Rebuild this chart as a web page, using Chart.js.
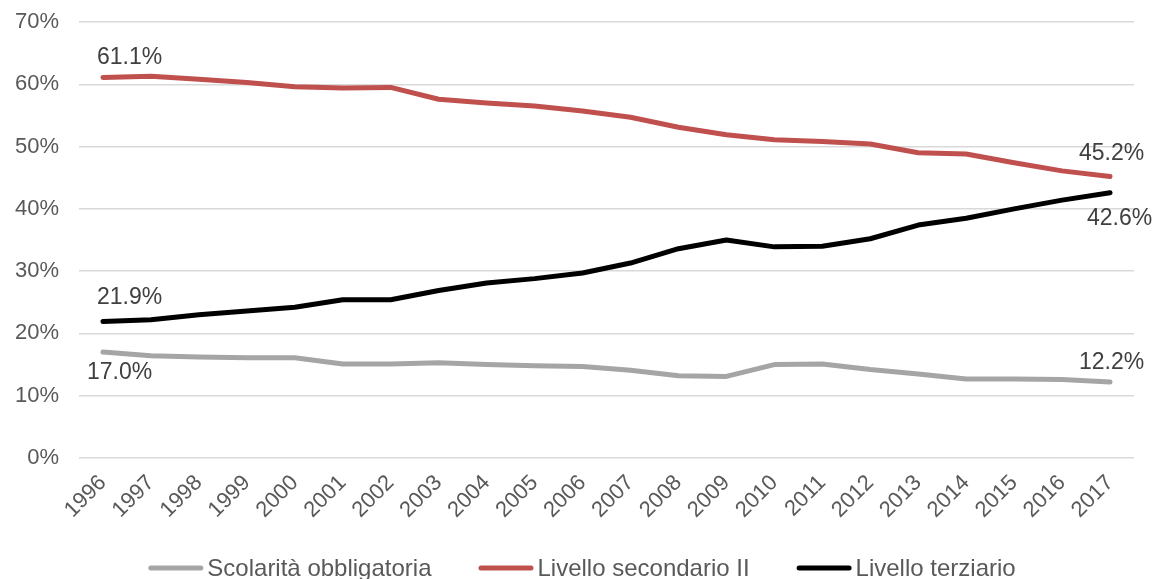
<!DOCTYPE html>
<html lang="it">
<head>
<meta charset="utf-8">
<title>Livello di formazione</title>
<script src="https://cdn.jsdelivr.net/npm/chart.js@4.4.1/dist/chart.umd.min.js"></script>
<style>
  html, body { margin: 0; padding: 0; background: #ffffff; }
  #wrap { width: 1156px; height: 579px; position: relative; }
</style>
</head>
<body>
<div id="wrap"><canvas id="chart"></canvas></div>
<script>
// Anni
const years = ['1996','1997','1998','1999','2000','2001','2002','2003','2004','2005','2006',
               '2007','2008','2009','2010','2011','2012','2013','2014','2015','2016','2017'];

// Quote in percentuale
const scolaritaObbligatoria = [17.0, 16.4, 16.2, 16.1, 16.1, 15.1, 15.1, 15.3, 15.0, 14.8, 14.7,
                               14.1, 13.2, 13.1, 15.0, 15.1, 14.2, 13.5, 12.7, 12.7, 12.6, 12.2];
const livelloSecondarioII   = [61.1, 61.3, 60.8, 60.3, 59.6, 59.4, 59.5, 57.6, 57.0, 56.5, 55.7,
                               54.7, 53.1, 51.9, 51.1, 50.8, 50.4, 49.0, 48.8, 47.4, 46.1, 45.2];
const livelloTerziario      = [21.9, 22.2, 23.0, 23.6, 24.2, 25.4, 25.4, 26.9, 28.1, 28.8, 29.7,
                               31.3, 33.6, 35.0, 33.9, 34.0, 35.2, 37.4, 38.5, 40.0, 41.4, 42.6];

const seriesNames = ['Scolarità obbligatoria', 'Livello secondario II', 'Livello terziario'];
const yTicks = [0, 10, 20, 30, 40, 50, 60, 70];

const FONT = '"Liberation Sans", Arial, sans-serif';

// Etichette del primo e dell'ultimo valore di ogni serie
const endLabels = {
  id: 'endLabels',
  afterDatasetsDraw(chart, args, opts) {
    const ctx = chart.ctx;
    ctx.save();
    ctx.font = '23px ' + FONT;
    ctx.fillStyle = '#404040';
    ctx.textBaseline = 'middle';
    ctx.textAlign = 'left';
    opts.placements.forEach(p => {
      const meta = chart.getDatasetMeta(p.dataset);
      const ds = chart.data.datasets[p.dataset];
      const idx = p.index < 0 ? ds.data.length + p.index : p.index;
      const pt = meta.data[idx];
      const txt = ds.data[idx].toFixed(1) + '%';
      ctx.fillText(txt, pt.x + p.dx, pt.y + p.dy);
    });
    ctx.restore();
  }
};

// Legenda in basso: tratto di linea seguito dal nome della serie
const lineLegend = {
  id: 'lineLegend',
  afterDraw(chart, args, opts) {
    const ctx = chart.ctx;
    ctx.save();
    ctx.font = opts.fontSize + 'px ' + FONT;
    ctx.textBaseline = 'middle';
    ctx.textAlign = 'left';
    const items = chart.data.datasets.map(ds => ({
      text: ds.label,
      color: ds.borderColor,
      width: opts.lineLength + opts.textGap + ctx.measureText(ds.label).width
    }));
    const total = items.reduce((s, it) => s + it.width, 0) + opts.itemGap * (items.length - 1);
    let x = (chart.width - total) / 2 + opts.shiftX;
    const y = opts.y;
    items.forEach(it => {
      ctx.strokeStyle = it.color;
      ctx.lineWidth = 5;
      ctx.lineCap = 'round';
      ctx.beginPath();
      ctx.moveTo(x + 2.5, y);
      ctx.lineTo(x + opts.lineLength - 2.5, y);
      ctx.stroke();
      ctx.fillStyle = '#595959';
      ctx.fillText(it.text, x + opts.lineLength + opts.textGap, y + 1);
      x += it.width + opts.itemGap;
    });
    ctx.restore();
  }
};

new Chart(document.getElementById('chart'), {
  type: 'line',
  data: {
    labels: years,
    datasets: [
      {
        label: seriesNames[0],
        data: scolaritaObbligatoria,
        borderColor: '#a5a5a5',
        backgroundColor: '#a5a5a5',
        borderWidth: 5,
        borderCapStyle: 'round',
        borderJoinStyle: 'round',
        pointRadius: 0,
        tension: 0
      },
      {
        label: seriesNames[1],
        data: livelloSecondarioII,
        borderColor: '#c0504d',
        backgroundColor: '#c0504d',
        borderWidth: 5,
        borderCapStyle: 'round',
        borderJoinStyle: 'round',
        pointRadius: 0,
        tension: 0
      },
      {
        label: seriesNames[2],
        data: livelloTerziario,
        borderColor: '#000000',
        backgroundColor: '#000000',
        borderWidth: 5,
        borderCapStyle: 'round',
        borderJoinStyle: 'round',
        pointRadius: 0,
        tension: 0
      }
    ]
  },
  options: {
    responsive: true,
    maintainAspectRatio: false,
    animation: false,
    layout: { padding: { top: 22, right: 22, left: 0, bottom: 41 } },
    plugins: {
      tooltip: { enabled: false },
      legend: { display: false },
      lineLegend: { fontSize: 24, lineLength: 55, textGap: 4, itemGap: 47, y: 568, shiftX: 4 },
      endLabels: {
        placements: [
          { dataset: 1, index: 0,  dx: -6,  dy: -20 },
          { dataset: 2, index: 0,  dx: -6,  dy: -24 },
          { dataset: 0, index: 0,  dx: -16, dy: 21 },
          { dataset: 1, index: -1, dx: -31, dy: -23 },
          { dataset: 2, index: -1, dx: -23, dy: 26 },
          { dataset: 0, index: -1, dx: -31, dy: -19 }
        ]
      }
    },
    scales: {
      x: {
        offset: true,
        afterFit(scale) { scale.height = 80; },
        grid: { display: false },
        border: { display: false },
        ticks: {
          color: '#595959',
          font: { family: FONT, size: 22 },
          maxRotation: 45,
          minRotation: 45,
          autoSkip: false,
          padding: 4
        }
      },
      y: {
        min: 0,
        max: 70,
        afterBuildTicks(scale) {
          scale.ticks = yTicks.map(v => ({ value: v }));
        },
        afterFit(scale) {
          scale.width = 79;
          scale.paddingTop = 0;
          scale.paddingBottom = 0;
        },
        grid: { color: '#d9d9d9', lineWidth: 1.5, drawTicks: false },
        border: { display: false },
        ticks: {
          color: '#595959',
          font: { family: FONT, size: 22 },
          padding: 20,
          callback: v => v + '%'
        }
      }
    }
  },
  plugins: [endLabels, lineLegend]
});
</script>
</body>
</html>
